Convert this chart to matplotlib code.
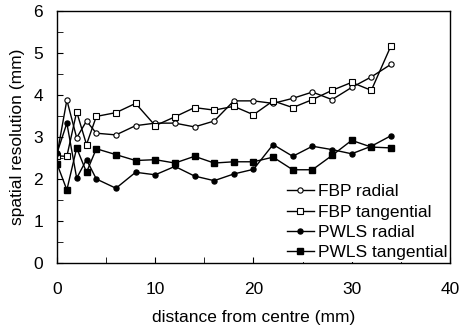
import matplotlib
matplotlib.use("Agg")
import matplotlib.pyplot as plt
from matplotlib.ticker import MultipleLocator

plt.rcParams['font.family'] = ['Liberation Sans', 'DejaVu Sans']

# distance from centre (mm)
distance = [0, 1, 2, 3, 4, 6, 8, 10, 12, 14, 16, 18, 20, 22, 24, 26, 28, 30, 32, 34]

fbp_radial = [2.58, 3.88, 2.98, 3.38, 3.09, 3.05, 3.27, 3.33, 3.33, 3.24,
              3.38, 3.86, 3.86, 3.80, 3.92, 4.07, 3.89, 4.18, 4.43, 4.73]
fbp_tangential = [2.55, 2.54, 3.60, 2.82, 3.49, 3.58, 3.80, 3.27, 3.48, 3.70,
                  3.64, 3.73, 3.53, 3.86, 3.70, 3.89, 4.11, 4.30, 4.11, 5.17]
pwls_radial = [2.62, 3.33, 2.02, 2.46, 2.00, 1.78, 2.16, 2.10, 2.30, 2.07,
               1.96, 2.12, 2.23, 2.82, 2.54, 2.78, 2.70, 2.60, 2.78, 3.03]
pwls_tangential = [2.36, 1.74, 2.74, 2.16, 2.72, 2.58, 2.44, 2.46, 2.38, 2.54,
                   2.38, 2.41, 2.41, 2.52, 2.22, 2.22, 2.56, 2.92, 2.76, 2.74]

fig = plt.figure(figsize=(4.6, 3.29), dpi=100)
ax = fig.add_axes([0.124, 0.2006, 0.854, 0.766])

ax.plot(distance, fbp_radial, '-o', color='black', mfc='white', ms=3.8,
        mew=0.8, lw=1.0, label='FBP radial')
ax.plot(distance, fbp_tangential, '-s', color='black', mfc='white', ms=4.2,
        mew=0.8, lw=1.0, label='FBP tangential')
ax.plot(distance, pwls_radial, '-o', color='black', ms=3.6, lw=1.0,
        label='PWLS radial')
ax.plot(distance, pwls_tangential, '-s', color='black', ms=4.6, lw=1.0,
        label='PWLS tangential')

ax.set_xlim(0, 40)
ax.set_ylim(0, 6)
ax.xaxis.set_major_locator(MultipleLocator(10))
ax.xaxis.set_minor_locator(MultipleLocator(5))
ax.yaxis.set_major_locator(MultipleLocator(1))
ax.yaxis.set_minor_locator(MultipleLocator(0.5))
ax.tick_params(which='both', direction='in', top=False, right=False,
               labelsize=12.5, length=4)
ax.tick_params(axis='x', which='both', pad=14)
ax.tick_params(axis='y', which='both', pad=10)
for s in ax.spines.values():
    s.set_linewidth(1.0)

ax.set_xlabel('distance from centre (mm)', fontsize=12.5, labelpad=9)
ax.set_ylabel('spatial resolution (mm)', fontsize=12.5, labelpad=6)

leg = ax.legend(loc='lower right', fontsize=12.5, frameon=True, framealpha=1,
                edgecolor='none', fancybox=False, handlelength=1.6,
                handletextpad=0.2, labelspacing=0.3, borderpad=0.1,
                borderaxespad=0.05)

fig.savefig('out.png', dpi=100)
